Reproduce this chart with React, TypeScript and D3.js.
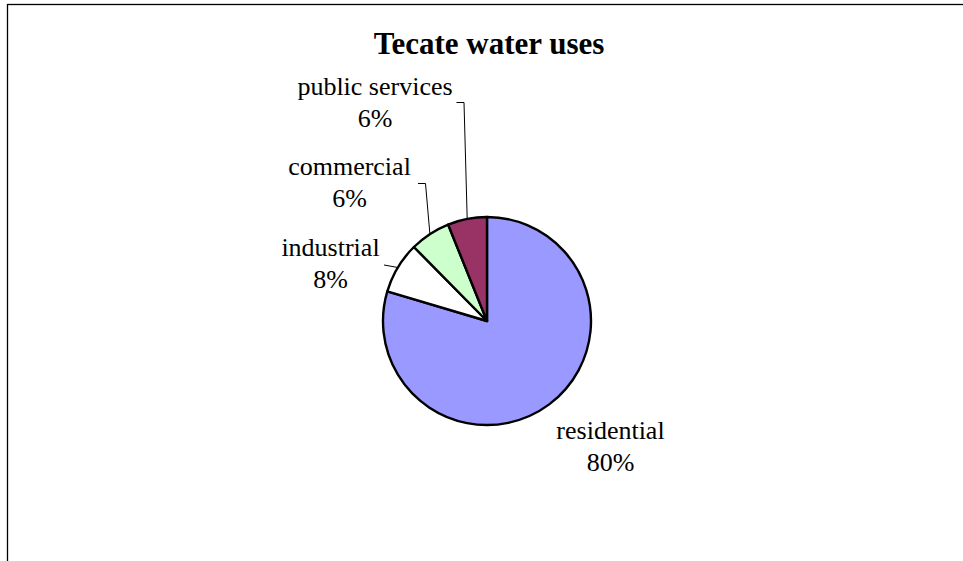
import React from "react";
import * as d3 from "d3";

const categories = ["residential", "industrial", "commercial", "public services"];
const values = [79.6, 8.0, 6.3, 6.1];
const colors = ["#9999FF", "#FFFFFF", "#CCFFCC", "#993366"];
const title = "Tecate water uses";

// layout (label centres / baselines and leader elbows)
const labelLayout = [
  { x: 610.5, y: 438.5, leader: null as null | number[][] },
  { x: 330.5, y: 255.5, leader: [[384, 265]] },
  { x: 349.5, y: 175, leader: [[418, 183.5], [425.5, 183.5]] },
  { x: 375, y: 95, leader: [[456.5, 102.5], [464, 102.5]] },
];

export default function App() {
  const W = 963, H = 561;
  const cx = 487, cy = 321, r = 104;
  const total = d3.sum(values);
  const pie = d3.pie<number>().sort(null).value((d) => d)(values);
  const arc = d3.arc<d3.PieArcDatum<number>>().innerRadius(0).outerRadius(r);
  const font = "Liberation Serif";
  const line = d3.line();

  return (
    <svg width={W} height={H} style={{ position: "absolute", left: 0, top: 0 }}>
      <rect x={0} y={0} width={W} height={H} fill="#fff" />
      <rect x={7.5} y={4.5} width={1200} height={1000} fill="none" stroke="#000" strokeWidth={1.3} />
      <text x={489} y={53.5} textAnchor="middle" fontFamily={font} fontWeight="bold" fontSize={31}>
        {title}
      </text>
      <g transform={`translate(${cx},${cy})`}>
        {pie.map((p, i) => (
          <path key={i} d={arc(p) || ""} fill={colors[i]} stroke="#000" strokeWidth={2.4} strokeLinejoin="round" />
        ))}
      </g>
      {pie.map((p, i) => {
        const L = labelLayout[i];
        const mid = (p.startAngle + p.endAngle) / 2;
        const ex = cx + r * Math.sin(mid);
        const ey = cy - r * Math.cos(mid);
        const pct = Math.round((values[i] / total) * 100) + "%";
        return (
          <g key={i}>
            {L.leader && (
              <path
                d={line([...(L.leader as [number, number][]), [ex, ey]]) || ""}
                fill="none"
                stroke="#000"
                strokeWidth={1}
              />
            )}
            <text x={L.x} y={L.y} textAnchor="middle" fontFamily={font} fontSize={26}>
              {categories[i]}
            </text>
            <text x={L.x} y={L.y + 32} textAnchor="middle" fontFamily={font} fontSize={26}>
              {pct}
            </text>
          </g>
        );
      })}
    </svg>
  );
}
